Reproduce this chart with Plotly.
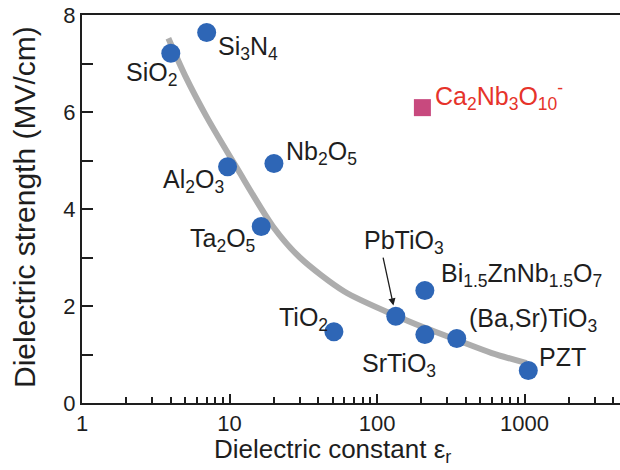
import numpy as np
import plotly.graph_objects as go

# Conventional dielectrics: relative permittivity vs breakdown strength
materials = ["SiO<sub>2</sub>", "Si<sub>3</sub>N<sub>4</sub>", "Al<sub>2</sub>O<sub>3</sub>",
             "Nb<sub>2</sub>O<sub>5</sub>", "Ta<sub>2</sub>O<sub>5</sub>", "TiO<sub>2</sub>",
             "PbTiO<sub>3</sub>", "SrTiO<sub>3</sub>", "Bi<sub>1.5</sub>ZnNb<sub>1.5</sub>O<sub>7</sub>",
             "(Ba,Sr)TiO<sub>3</sub>", "PZT"]
eps_r = [4.0, 7.0, 9.7, 20.0, 16.4, 51.0, 134.0, 211.0, 211.0, 347.0, 1060.0]
strength = [7.21, 7.64, 4.87, 4.94, 3.64, 1.47, 1.79, 1.41, 2.32, 1.33, 0.67]

# Perovskite nanosheet
nanosheet_name = "Ca<sub>2</sub>Nb<sub>3</sub>O<sub>10</sub><sup>-</sup>"
nanosheet_eps = [203.0]
nanosheet_strength = [6.09]

# Trend line through the conventional materials
trend_eps = [3.85, 5.0, 7.0, 11.1, 19.7, 30.0, 60.0, 134.0, 211.0, 347.0, 600.0, 1035.0]
trend_strength = [7.52, 6.75, 5.9, 4.87, 3.64, 3.0, 2.3, 1.8, 1.55, 1.3, 1.03, 0.82]

# Axis ticks and titles
x_major = [1, 10, 100, 1000]
x_minor = [m * d for d in (1, 10, 100, 1000) for m in range(2, 10) if m * d < 4500]
y_ticks = [0, 1, 2, 3, 4, 5, 6, 7, 8]
y_labels = ["0", "", "2", "", "4", "", "6", "", "8"]
x_title = "Dielectric constant ε<sub>r</sub>"
y_title = "Dielectric strength (MV/cm)"

FONT = "Liberation Sans, Arial, Helvetica, sans-serif"
INK = "#1e1e1e"
BLUE = "#2e66b6"
LABEL_SIZE = 25
TICK_SIZE = 22

# label placement: (anchor, xshift, yshift) in pixels relative to each marker
label_layout = {
    "SiO<sub>2</sub>": ("right", 8, -21),
    "Si<sub>3</sub>N<sub>4</sub>": ("left", 9, -16),
    "Al<sub>2</sub>O<sub>3</sub>": ("right", -2, -14),
    "Nb<sub>2</sub>O<sub>5</sub>": ("left", 10, 10),
    "Ta<sub>2</sub>O<sub>5</sub>": ("right", -4, -14),
    "TiO<sub>2</sub>": ("right", -4, 13),
    "SrTiO<sub>3</sub>": ("right", 13, -30),
    "Bi<sub>1.5</sub>ZnNb<sub>1.5</sub>O<sub>7</sub>": ("left", 14, 15),
    "(Ba,Sr)TiO<sub>3</sub>": ("left", 10, 19),
    "PZT": ("left", 9, 14),
}

fig = go.Figure()

fig.add_trace(go.Scatter(
    x=trend_eps, y=trend_strength, mode="lines",
    line=dict(color="#adadad", width=6, shape="spline", smoothing=0.8),
    hoverinfo="skip", showlegend=False,
))

fig.add_trace(go.Scatter(
    x=eps_r, y=strength, mode="markers",
    marker=dict(color=BLUE, size=19, line=dict(width=0)),
    showlegend=False,
))

fig.add_trace(go.Scatter(
    x=nanosheet_eps, y=nanosheet_strength, mode="markers",
    marker=dict(color="#c8497e", size=17, symbol="square", line=dict(width=0)),
    showlegend=False,
))

annotations = []
for name, ex, s in zip(materials, eps_r, strength):
    if name not in label_layout:
        continue
    anchor, dx, dy = label_layout[name]
    annotations.append(dict(
        x=np.log10(ex), y=s, xref="x", yref="y", text=name, showarrow=False,
        xanchor=anchor, yanchor="middle", xshift=dx, yshift=dy,
        font=dict(family=FONT, size=LABEL_SIZE, color=INK),
    ))

# PbTiO3 label with an arrow pointing to its marker
pb_idx = materials.index("PbTiO<sub>3</sub>")
annotations.append(dict(
    x=np.log10(eps_r[pb_idx]), y=strength[pb_idx], xref="x", yref="y",
    text="", showarrow=True, arrowhead=2, arrowsize=1.1, arrowwidth=1.3,
    arrowcolor=INK, ax=-13, ay=-60, standoff=11, startstandoff=0,
))
annotations.append(dict(
    x=np.log10(eps_r[pb_idx]), y=strength[pb_idx], xref="x", yref="y",
    text=materials[pb_idx], showarrow=False, xanchor="center", yanchor="middle",
    xshift=8, yshift=74, font=dict(family=FONT, size=LABEL_SIZE, color=INK),
))

annotations.append(dict(
    x=np.log10(nanosheet_eps[0]), y=nanosheet_strength[0], xref="x", yref="y",
    text=nanosheet_name, showarrow=False, xanchor="left", yanchor="middle",
    xshift=11, yshift=12, font=dict(family=FONT, size=LABEL_SIZE, color="#e6332a"),
))

# axis titles
annotations.append(dict(
    x=0.4665, y=0.0, xref="paper", yref="paper", text=x_title, showarrow=False,
    xanchor="center", yanchor="top", yshift=-30, borderpad=0,
    font=dict(family=FONT, size=26, color=INK),
))
annotations.append(dict(
    x=-0.108, y=0.505, xref="paper", yref="paper", text=y_title, showarrow=False,
    textangle=-90, xanchor="center", yanchor="middle",
    font=dict(family=FONT, size=30, color=INK),
))

fig.update_layout(
    width=620, height=470,
    margin=dict(l=82, r=0, t=15, b=67),
    paper_bgcolor="white", plot_bgcolor="white",
    font=dict(family=FONT, size=TICK_SIZE, color=INK),
    annotations=annotations,
    showlegend=False,
)

fig.update_xaxes(
    type="log", range=[0, 3.647],
    tickvals=x_major, ticktext=[str(v) for v in x_major],
    ticks="inside", ticklen=9, tickwidth=1.5, tickcolor=INK,
    minor=dict(tickvals=x_minor, ticks="inside", ticklen=6, tickwidth=1.5, tickcolor=INK),
    showline=True, linecolor=INK, linewidth=2, mirror=True,
    showgrid=False, zeroline=False,
    tickfont=dict(family=FONT, size=TICK_SIZE, color=INK),
)

fig.update_yaxes(
    range=[0, 8],
    tickvals=y_ticks, ticktext=y_labels,
    ticks="inside", ticklen=11, tickwidth=1.5, tickcolor=INK,
    showline=True, linecolor=INK, linewidth=2, mirror=False,
    showgrid=False, zeroline=False,
    tickfont=dict(family=FONT, size=TICK_SIZE, color=INK),
)

fig.write_html("out.html")
